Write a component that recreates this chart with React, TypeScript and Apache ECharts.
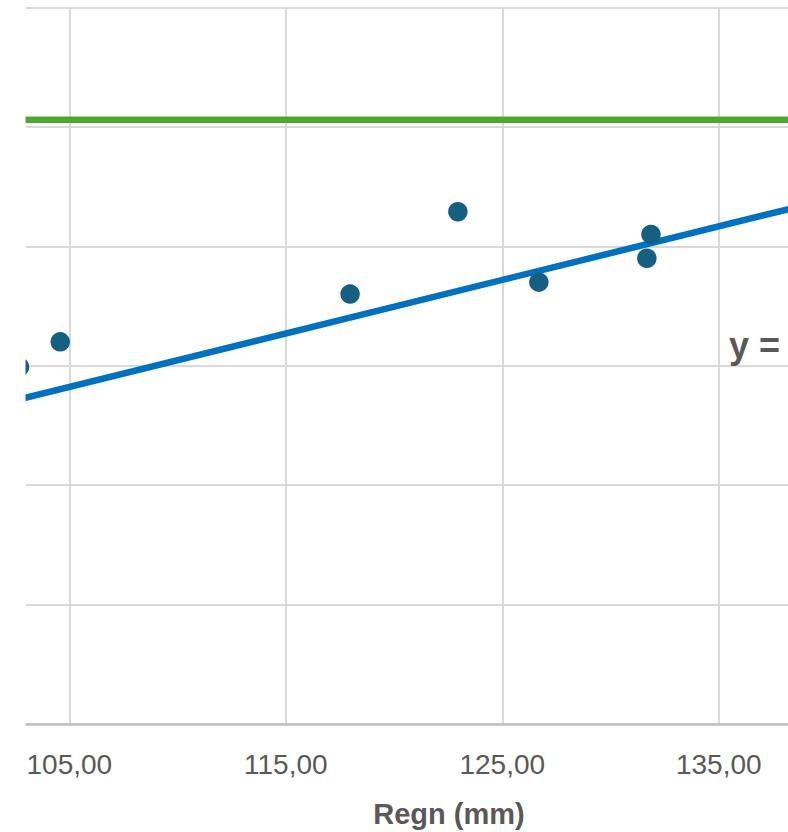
import React, { useEffect, useRef } from "react";
import * as echarts from "echarts";

// Rainfall (mm) on the x axis, measured value on the y axis
const rainMm = [102.7, 104.58, 117.97, 122.95, 126.69, 131.68, 131.87];
const measured = [29.9, 32.0, 36.0, 42.9, 37.0, 39.0, 41.0];

// Linear trend line (end points)
const trendX = [95, 145];
const trendY = [23.74, 46.15];

// Target level (green line)
const targetX = [95, 145];
const targetY = [50.6, 50.6];

const xTickValues = [105, 115, 125, 135];
const xMin = 103.0;
const xMax = 138.2;
const yMin = 0;
const yMax = 60;
const yInterval = 10;

const xTitle = "Regn (mm)";
const equationText = "y =";

const FONT = "'Liberation Sans', Arial, sans-serif";

export default function App() {
  const ref = useRef<HTMLDivElement>(null);

  useEffect(() => {
    if (!ref.current) return;
    const chart = echarts.init(ref.current, undefined, { renderer: "svg" });
    const pts = rainMm.map((x, i) => [x, measured[i]]);
    const trend = trendX.map((x, i) => [x, trendY[i]]);
    const target = targetX.map((x, i) => [x, targetY[i]]);

    chart.setOption({
      animation: false,
      backgroundColor: "#ffffff",
      grid: { left: 26, right: 0, top: 7.5, bottom: 108, containLabel: false },
      xAxis: {
        type: "value",
        min: xMin,
        max: xMax,
        axisLine: { show: true, lineStyle: { color: "#BFBFBF", width: 2.5 } },
        axisTick: { show: false, customValues: xTickValues },
        axisLabel: {
          customValues: xTickValues,
          color: "#595959",
          fontSize: 28,
          fontFamily: FONT,
          margin: 26,
          formatter: (v: number) => v.toFixed(2).replace(".", ","),
        },
        splitLine: { show: true, lineStyle: { color: "#D9D9D9", width: 2 } },
      },
      yAxis: {
        type: "value",
        min: yMin,
        max: yMax,
        interval: yInterval,
        axisLine: { show: false },
        axisTick: { show: false },
        axisLabel: { show: false },
        splitLine: { show: true, lineStyle: { color: "#D9D9D9", width: 2 } },
      },
      series: [
        {
          name: "Mål",
          type: "line",
          data: target,
          symbol: "none",
          lineStyle: { color: "#4EA72E", width: 6.5 },
          z: 3,
        },
        {
          name: "Trend",
          type: "line",
          data: trend,
          symbol: "none",
          lineStyle: { color: "#0070C0", width: 6.5 },
          z: 4,
        },
        {
          name: "Måling",
          type: "scatter",
          data: pts,
          symbolSize: 19.5,
          clip: false,
          itemStyle: { color: "#156082", opacity: 1 },
          z: 5,
        },
      ],
      graphic: [
        {
          type: "rect",
          shape: { x: 0, y: 0, width: 25.5, height: 832 },
          style: { fill: "#ffffff" },
          z: 100,
          silent: true,
        },
        {
          type: "text",
          x: 449,
          y: 814,
          z: 101,
          style: {
            text: xTitle,
            fill: "#595959",
            font: `bold 29px ${FONT}`,
            textAlign: "center",
            textVerticalAlign: "middle",
          },
        },
        {
          type: "text",
          x: 729,
          y: 345,
          z: 101,
          style: {
            text: equationText,
            fill: "#595959",
            font: `bold 36px ${FONT}`,
            textAlign: "left",
            textVerticalAlign: "middle",
          },
        },
      ],
    });
    return () => chart.dispose();
  }, []);

  return (
    <div
      ref={ref}
      style={{ position: "fixed", left: 0, top: 0, width: 788, height: 832 }}
    />
  );
}
